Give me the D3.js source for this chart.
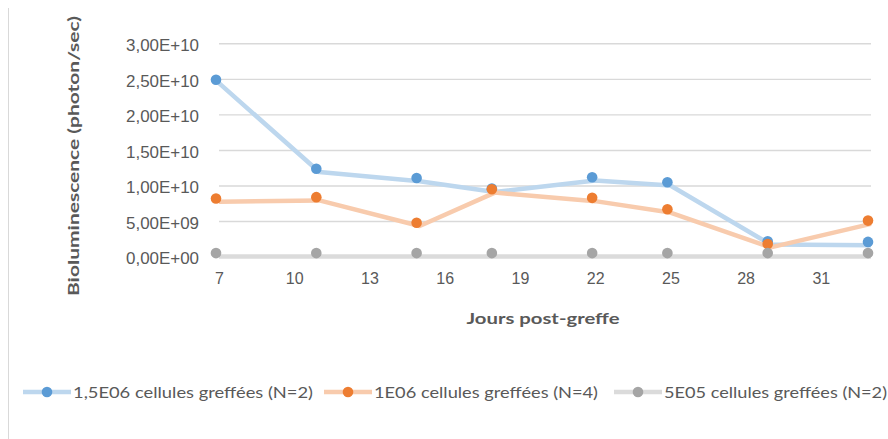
<!DOCTYPE html>
<html>
<head>
<meta charset="utf-8">
<script src="https://cdn.jsdelivr.net/npm/d3@7/dist/d3.min.js"></script>
<style>
  html, body { margin: 0; padding: 0; background: #ffffff; }
  svg { display: block; font-family: Lato, "Open Sans", sans-serif; }
</style>
</head>
<body>
<svg id="chart" width="888" height="439"></svg>
<script>
// ---- data ----
const days = [7, 11, 15, 18, 22, 25, 29, 33];
const seriesNames = [
  "1,5E06 cellules greffées (N=2)",
  "1E06 cellules greffées (N=4)",
  "5E05 cellules greffées (N=2)"
];
const values15E06 = [2.44e10, 1.19e10, 1.06e10, 9.1e9, 1.07e10, 1.0e10, 1.7e9, 1.6e9];
const values1E06 = [7.7e9, 7.9e9, 4.3e9, 9.0e9, 7.8e9, 6.2e9, 1.3e9, 4.6e9];
const values5E05 = [3e7, 3e7, 3e7, 3e7, 3e7, 3e7, 3e7, 3e7];
const yTicks = [0, 5e9, 1e10, 1.5e10, 2e10, 2.5e10, 3e10];
const yTickLabels = ["0,00E+00", "5,00E+09", "1,00E+10", "1,50E+10", "2,00E+10", "2,50E+10", "3,00E+10"];
const xTicks = [7, 10, 13, 16, 19, 22, 25, 28, 31];
const xTitle = "Jours post-greffe";
const yTitle = "Bioluminescence (photon/sec)";

const lineColors = ["#bdd7ee", "#f8cbad", "#dbdbdb"];
const markerColors = ["#5b9bd5", "#ed7d31", "#a5a5a5"];
const allValues = [values15E06, values1E06, values5E05];

const svg = d3.select("#chart");
const textColor = "#595959";

// frame line on left
svg.append("line").attr("x1", 8.5).attr("x2", 8.5).attr("y1", 8).attr("y2", 439)
  .attr("stroke", "#d9d9d9").attr("stroke-width", 1);

const x = d3.scaleLinear().domain([7, 33]).range([219, 871]);
const y = d3.scaleLinear().domain([0, 3e10]).range([256.6, 43.3]);

// gridlines
const yAxis = d3.axisLeft(y).tickValues(yTicks).tickSize(-(871 - 219))
  .tickFormat((d, i) => yTickLabels[i]).tickPadding(20);
const gy = svg.append("g").attr("transform", "translate(219,0)").call(yAxis);
gy.select(".domain").remove();
gy.selectAll(".tick line").attr("stroke", "#d9d9d9").attr("stroke-width", 1.4);
gy.selectAll(".tick text").attr("fill", textColor).attr("font-size", 16)
  .attr("x", -20).attr("dy", "0.45em")
  .attr("textLength", 73).attr("lengthAdjust", "spacingAndGlyphs");

// x axis labels
const xAxis = d3.axisBottom(x).tickValues(xTicks).tickSize(0).tickFormat(d => d);
const gx = svg.append("g").attr("transform", "translate(0,279)").call(xAxis);
gx.select(".domain").remove();
gx.selectAll(".tick text").attr("fill", textColor).attr("font-size", 16).attr("dy", "0.1em");

// series
const lineGen = d3.line().x((d, i) => x(days[i])).y(d => y(d));
allValues.forEach((vals, s) => {
  svg.append("path").datum(vals)
    .attr("d", lineGen)
    .attr("fill", "none")
    .attr("stroke", lineColors[s])
    .attr("stroke-width", 4.5)
    .attr("stroke-linejoin", "round");
  svg.append("g").attr("transform", "translate(-3,-3.3)")
    .selectAll("circle").data(vals).join("circle")
    .attr("cx", (d, i) => x(days[i]))
    .attr("cy", d => y(d))
    .attr("r", 5.3)
    .attr("fill", markerColors[s]);
});

// axis titles
svg.append("text")
  .attr("transform", "translate(79,156) rotate(-90)")
  .attr("text-anchor", "middle")
  .attr("font-size", 16).attr("font-weight", "bold").attr("fill", textColor)
  .attr("textLength", 280).attr("lengthAdjust", "spacingAndGlyphs")
  .text(yTitle);

svg.append("text")
  .attr("x", 543).attr("y", 324)
  .attr("text-anchor", "middle")
  .attr("font-size", 16).attr("font-weight", "bold").attr("fill", textColor)
  .attr("textLength", 153).attr("lengthAdjust", "spacingAndGlyphs")
  .text(xTitle);

// legend
const legendX = [23, 324, 614];
const legendTextLen = [240, 224, 223];
const legendY = 392;
seriesNames.forEach((name, s) => {
  const g = svg.append("g").attr("transform", `translate(${legendX[s]},${legendY})`);
  g.append("line").attr("x1", 0).attr("x2", 48).attr("y1", 0).attr("y2", 0)
    .attr("stroke", lineColors[s]).attr("stroke-width", 4.5);
  g.append("circle").attr("cx", 24).attr("cy", 0).attr("r", 5.3).attr("fill", markerColors[s]);
  g.append("text").attr("x", 50).attr("y", 0).attr("dy", "0.36em")
    .attr("font-size", 16).attr("fill", textColor)
    .attr("textLength", legendTextLen[s]).attr("lengthAdjust", "spacingAndGlyphs")
    .text(name);
});
</script>
</body>
</html>
